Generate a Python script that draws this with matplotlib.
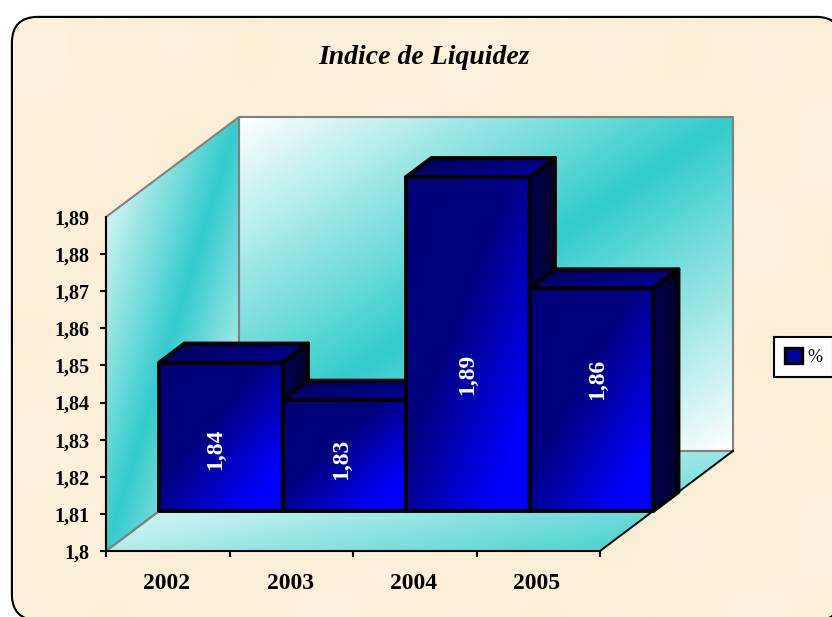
# Indice de Liquidez - 3D looking bar chart drawn on a plain 2D axes

import matplotlib
matplotlib.use("Agg")
import matplotlib.pyplot as plt
import numpy as np
from matplotlib.colors import LinearSegmentedColormap
from matplotlib.patches import FancyBboxPatch, Patch, Polygon

years = ["2002", "2003", "2004", "2005"]
values = [1.84, 1.83, 1.89, 1.86]
value_labels = ["1,84", "1,83", "1,89", "1,86"]
y_ticks = [1.80, 1.81, 1.82, 1.83, 1.84, 1.85, 1.86, 1.87, 1.88, 1.89]
y_tick_labels = ["1,8", "1,81", "1,82", "1,83", "1,84", "1,85", "1,86", "1,87", "1,88", "1,89"]

W, H = 832, 617
# offset of the back wall from the front plane, in data units
DEPTH_X = 133 / 123.5
DEPTH_Y = 100 / 37.1 * 0.01
BAR_FRONT, BAR_BACK = 0.4, 0.59
BASE = 1.80

serif = "Liberation Serif"
teal = "#33CCCC"
wall_cmap = LinearSegmentedColormap.from_list("wall", ["#FFFFFF", teal, "#FFFFFF"])
floor_cmap = LinearSegmentedColormap.from_list("floor", [(0, "#FFFFFF"), (0.12, "#FFFFFF"), (1, teal)])
front_cmap = LinearSegmentedColormap.from_list(
    "front", [(0, "#000078"), (0.42, "#000080"), (0.85, "#0000FF"), (1, "#0000FF")])
top_cmap = LinearSegmentedColormap.from_list("top", ["#000048", "#0000A8"])
side_cmap = LinearSegmentedColormap.from_list("side", ["#000058", "#000022"])
paper_cmap = LinearSegmentedColormap.from_list("paper", ["#FBEDD2", "#FDF0D9", "#FEF4E2"])

fig = plt.figure(figsize=(W / 100, H / 100), dpi=100, facecolor="white")

# background card, in pixel coordinates
bg = fig.add_axes([0, 0, 1, 1], zorder=0)
bg.set_xlim(0, W)
bg.set_ylim(H, 0)
bg.axis("off")
card = FancyBboxPatch((12, 17), 830, 603, boxstyle="round,pad=0,rounding_size=26",
                      facecolor="#FDF0D8", edgecolor="black", linewidth=1.7, zorder=0.4)
bg.add_patch(card)
# faint mottling of the paper texture, clipped just inside the card outline
inner = FancyBboxPatch((13, 18), 828, 601, boxstyle="round,pad=0,rounding_size=25", transform=bg.transData)
gx, gy = np.meshgrid(np.arange(W), np.arange(H))
mottle = np.sin(gx / 23.0) * np.sin(gy / 31.0) + 0.6 * np.sin((gx + gy) / 67.0)
paper = bg.imshow(mottle, cmap=paper_cmap, vmin=-3.2, vmax=3.2, extent=(0, W, H, 0), aspect="auto", zorder=0.5)
paper.set_clip_path(inner)
bg.set_xlim(0, W)
bg.set_ylim(H, 0)

ax = fig.add_axes([106 / W, 1 - 551 / H, 494 / W, 334 / H], zorder=1)
ax.patch.set_alpha(0)


def proj(x, v, d):
    return (x + d * DEPTH_X, v + d * DEPTH_Y)


def shade(points, cmap, wx=0.5, wy=0.5, z=2):
    # gradient image clipped to a polygon, running from upper left to lower right
    pts = np.array(points)
    x0, x1 = pts[:, 0].min(), pts[:, 0].max()
    y0, y1 = pts[:, 1].min(), pts[:, 1].max()
    u, v = np.meshgrid(np.linspace(0, 1, 200), np.linspace(0, 1, 200))
    im = ax.imshow(wx * u + wy * v, cmap=cmap, vmin=0, vmax=1, origin="upper",
                   extent=(x0, x1, y0, y1), aspect="auto", zorder=z, interpolation="bilinear")
    im.set_clip_box(fig.bbox)
    im.set_clip_path(Polygon(points, closed=True, transform=ax.transData))


def outline(points, color, lw, z):
    ax.add_patch(Polygon(points, closed=True, fill=False, edgecolor=color, linewidth=lw,
                         joinstyle="round", clip_on=False, zorder=z))


# walls and floor
top = y_ticks[-1]
side_wall = [proj(0, BASE, 0), proj(0, top, 0), proj(0, top, 1), proj(0, BASE, 1)]
back_wall = [proj(0, BASE, 1), proj(0, top, 1), proj(4, top, 1), proj(4, BASE, 1)]
floor = [proj(0, BASE, 0), proj(0, BASE, 1), proj(4, BASE, 1), proj(4, BASE, 0)]
shade(side_wall, wall_cmap)
shade(back_wall, wall_cmap)
shade(floor, floor_cmap, 0.55, 0.45)
outline(side_wall, "#808080", 1.5, 3)
outline(back_wall, "#808080", 1.5, 3)
ax.plot(*zip(proj(0, BASE, 0), proj(0, BASE, 1)), color="#808080", lw=1.5, clip_on=False, zorder=3)
ax.plot(*zip(proj(4, BASE, 0), proj(4, BASE, 1)), color="black", lw=1.4, clip_on=False, zorder=3)

# bars, left to right so the next front hides the previous side
for i, val in enumerate(values):
    z = 4 + i
    front = [proj(i, BASE, BAR_FRONT), proj(i, val, BAR_FRONT),
             proj(i + 1, val, BAR_FRONT), proj(i + 1, BASE, BAR_FRONT)]
    roof = [proj(i, val, BAR_FRONT), proj(i, val, BAR_BACK),
            proj(i + 1, val, BAR_BACK), proj(i + 1, val, BAR_FRONT)]
    side = [proj(i + 1, BASE, BAR_FRONT), proj(i + 1, val, BAR_FRONT),
            proj(i + 1, val, BAR_BACK), proj(i + 1, BASE, BAR_BACK)]
    shade(side, side_cmap, 1.0, 0.0, z)
    shade(roof, top_cmap, 0.5, 0.5, z)
    shade(front, front_cmap, 0.5, 0.5, z)
    outline(side, "black", 2.8, z)
    outline(roof, "black", 2.8, z)
    outline(front, "black", 2.8, z)

# value labels, nudged in pixels (they are not centred on the bars in the original)
label_nudge = [(-5, -13), (-3, -4), (0, -30), (6, 20)]
for i, val in enumerate(values):
    x, y = proj(i + 0.5, (BASE + val) / 2, BAR_FRONT)
    ax.annotate(value_labels[i], (x, y), xytext=(label_nudge[i][0] * 0.72, label_nudge[i][1] * 0.72),
                textcoords="offset points", rotation=90, ha="center", va="center", color="white",
                family=serif, weight="bold", fontsize=17, zorder=20, annotation_clip=False)

# axes
for name in ["top", "right"]:
    ax.spines[name].set_visible(False)
for name in ["left", "bottom"]:
    ax.spines[name].set_linewidth(1.5)
    ax.spines[name].set_zorder(3.5)

ax.set_yticks(y_ticks)
ax.set_yticklabels(y_tick_labels, family=serif, weight="bold", fontsize=14.5)
ax.yaxis.get_major_ticks()[-1].tick1line.set_visible(False)
ax.tick_params(axis="y", length=4, width=1.5, pad=8)

ax.set_xticks(range(5))
ax.set_xticklabels([])
ax.set_xticks([i + 0.49 for i in range(4)], minor=True)
ax.set_xticklabels(years, minor=True, family=serif, weight="bold", fontsize=17)
ax.tick_params(axis="x", which="major", length=4, width=1.5)
ax.tick_params(axis="x", which="minor", length=0, pad=16)

ax.set_xlim(0, 4)
ax.set_ylim(1.80, 1.89)

fig.text(424 / W, 1 - 57 / H, "Indice de Liquidez", family=serif, weight="bold", style="italic",
         fontsize=20, ha="center", va="center", color="black")

# legend runs off the right edge in the original
leg = bg.legend(handles=[Patch(facecolor="#0000A0", edgecolor="black", linewidth=2.4)], labels=["%"],
                loc="upper left", bbox_to_anchor=(774, 337), bbox_transform=bg.transData,
                borderaxespad=0, borderpad=0.6, handlelength=0.95, handleheight=0.95, handletextpad=0.3,
                fancybox=False, framealpha=1, edgecolor="black", facecolor="white",
                prop={"family": serif, "size": 13})
leg.get_frame().set_linewidth(1.5)

plt.savefig("out.png", dpi=100)
plt.close()
